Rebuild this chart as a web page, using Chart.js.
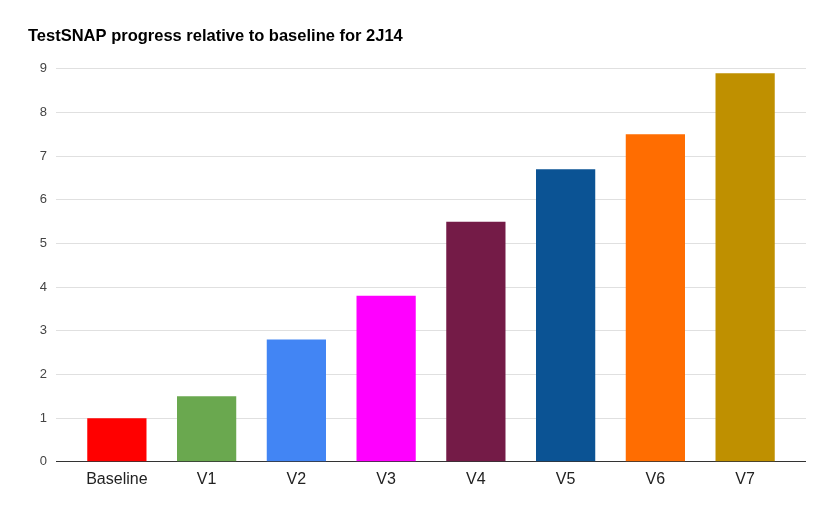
<!DOCTYPE html>
<html>
<head>
<meta charset="utf-8">
<script src="https://cdn.jsdelivr.net/npm/chart.js@4.4.0/dist/chart.umd.min.js"></script>
<style>
  html, body { margin: 0; padding: 0; background: #fff; }
  #wrap { width: 830px; height: 514px; }
</style>
</head>
<body>
<div id="wrap"><canvas id="chart" width="830" height="514"></canvas></div>
<script>
const categories = ['Baseline', 'V1', 'V2', 'V3', 'V4', 'V5', 'V6', 'V7'];
const progress = [1, 1.5, 2.8, 3.8, 5.5, 6.7, 7.5, 8.9];
const barColors = ['#ff0000', '#6aa84f', '#4285f4', '#ff00ff', '#741b47', '#0b5394', '#ff6d01', '#bf9000'];
const yTicks = [0, 1, 2, 3, 4, 5, 6, 7, 8, 9];

const font = 'Liberation Sans, Arial, sans-serif';
const gridColor = ctx => (ctx.tick && ctx.tick.value === 0 ? '#333333' : '#e0e0e0');

new Chart(document.getElementById('chart'), {
  type: 'bar',
  data: {
    labels: categories,
    datasets: [{
      data: progress,
      backgroundColor: barColors,
      borderWidth: 0,
      categoryPercentage: 1,
      barPercentage: 0.66
    }]
  },
  options: {
    responsive: false,
    animation: false,
    layout: { padding: { left: 28, right: 24, top: 0, bottom: 17 } },
    plugins: {
      legend: { display: false },
      tooltip: { enabled: false },
      title: {
        display: true,
        text: 'TestSNAP progress relative to baseline for 2J14',
        align: 'start',
        color: '#000',
        font: { family: font, size: 16.5, weight: 'bold' },
        padding: { top: 27, bottom: 22 }
      }
    },
    scales: {
      x: {
        grid: { display: false, drawTicks: false },
        border: { display: false },
        ticks: { color: '#222', padding: 8, font: { family: font, size: 16 } }
      },
      y: {
        min: 0,
        max: 9,
        afterBuildTicks: axis => { axis.ticks = yTicks.map(v => ({ value: v })); },
        afterFit: axis => { axis.width = 44; },
        border: { display: false },
        grid: { color: gridColor, tickLength: 16, lineWidth: 1 },
        ticks: { color: '#444', padding: 9, font: { family: font, size: 13 } }
      },
      y2: {
        position: 'right',
        min: 0,
        max: 9,
        afterBuildTicks: axis => { axis.ticks = yTicks.map(v => ({ value: v })); },
        border: { display: false },
        grid: { color: gridColor, drawOnChartArea: false, tickLength: 16 },
        ticks: { display: false }
      }
    }
  }
});
</script>
</body>
</html>
